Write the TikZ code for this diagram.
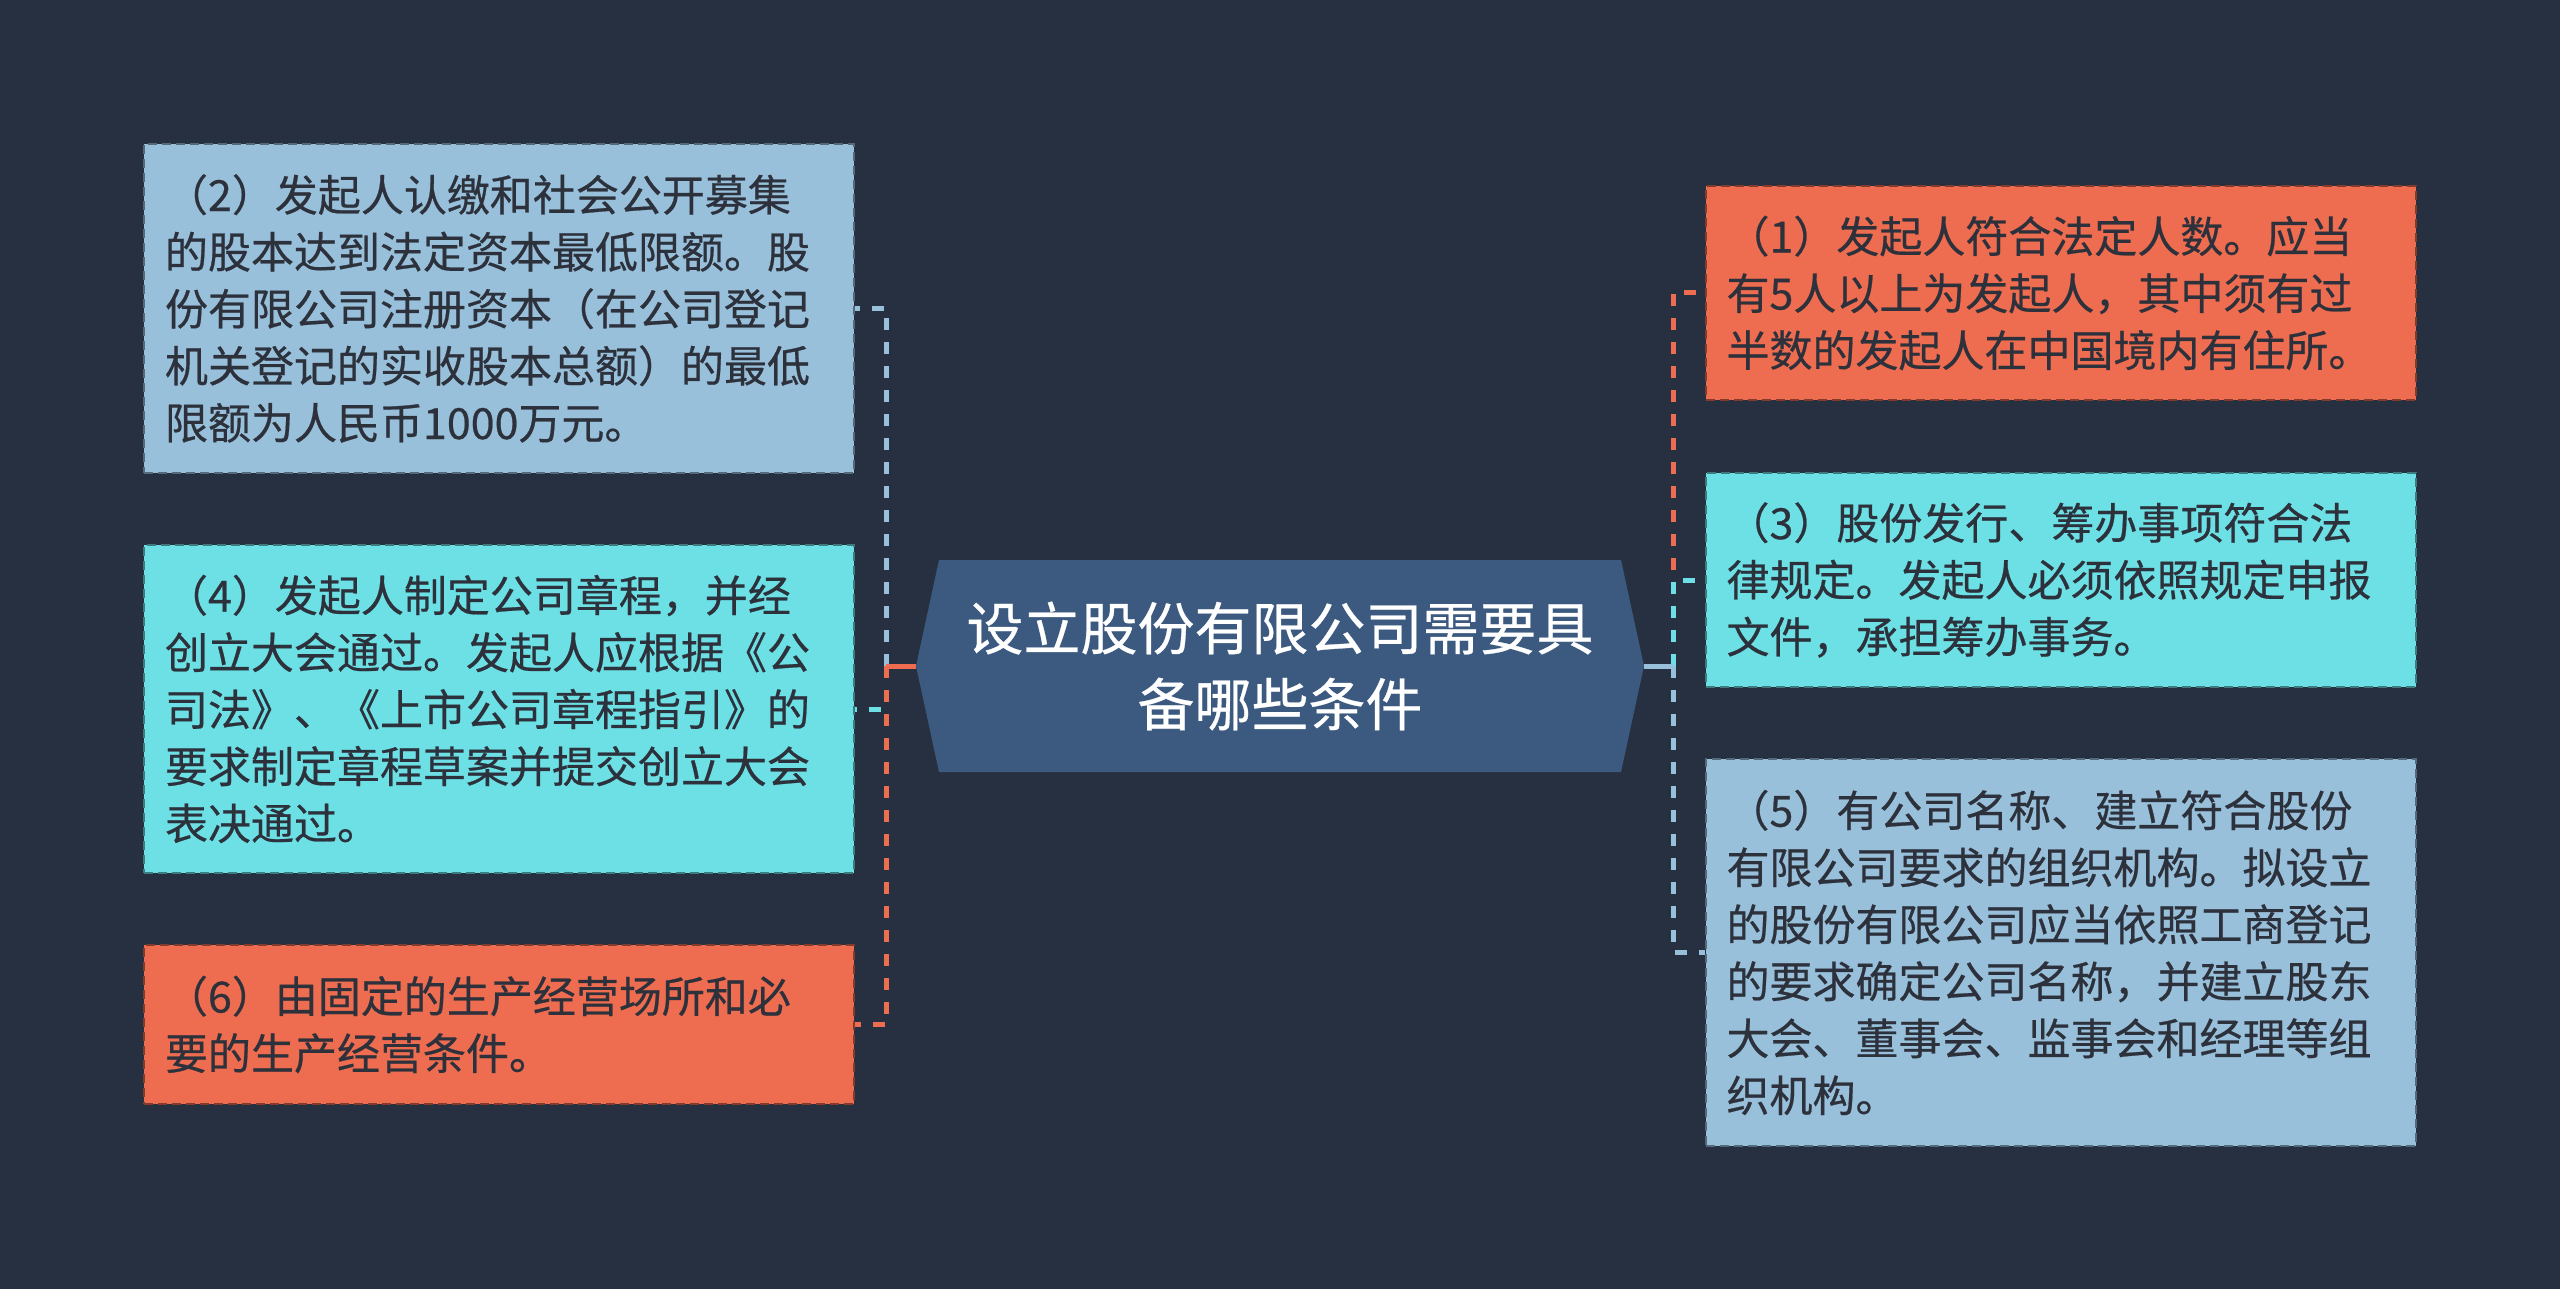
\documentclass[tikz,border=0pt]{standalone}
\usepackage{fontspec}
\setmainfont[FakeBold=0.5]{Noto Sans CJK SC}
\definecolor{bgc}{HTML}{273040}
\definecolor{lblue}{HTML}{99C0DA}
\definecolor{cyanb}{HTML}{6DE0E5}
\definecolor{orng}{HTML}{EE6C4F}
\definecolor{cfill}{HTML}{3C5A7F}
\definecolor{txt}{HTML}{2C313C}
\tikzset{
  box/.style={rectangle, minimum width=710pt, text width=668pt, inner xsep=21pt, inner ysep=0pt,
    align=left, text=txt, font=\fontsize{43}{57}\selectfont,
    line width=2pt, dash pattern=on 9pt off 5pt},
  bl/.style={box, fill=lblue, draw=lblue!55!black},
  bc/.style={box, fill=cyanb, draw=cyanb!55!black},
  bo/.style={box, fill=orng, draw=orng!55!black},
  cnode/.style={minimum width=728pt, minimum height=212pt, inner sep=0pt, align=center,
    text=white, font=\fontsize{57}{76}\selectfont},
  conn/.style={line width=5pt, dash pattern=on 12pt off 12pt},
  stub/.style={line width=5pt},
}
\begin{document}
\begin{tikzpicture}[x=1pt,y=-1pt]
\useasboundingbox (0,0) rectangle (2560,1289);
\fill[bgc] (0,0) rectangle (2560,1289);
% central hexagon
\fill[cfill] (916,666) -- (939,560) -- (1621,560) -- (1644,666) -- (1621,772) -- (939,772) -- cycle;
\node[cnode] (cn) at (1280,666) {设立股份有限公司需要具\\备哪些条件};
% left boxes
\node[bl, minimum height=329pt] (b2) at (499,308.5) {（2）发起人认缴和社会公开募集\\的股本达到法定资本最低限额。股\\份有限公司注册资本（在公司登记\\机关登记的实收股本总额）的最低\\限额为人民币1000万元。};
\node[bc, minimum height=328pt] (b4) at (499,709) {（4）发起人制定公司章程，并经\\创立大会通过。发起人应根据《公\\司法》、《上市公司章程指引》的\\要求制定章程草案并提交创立大会\\表决通过。};
\node[bo, minimum height=159pt] (b6) at (499,1024.5) {（6）由固定的生产经营场所和必\\要的生产经营条件。};
% right boxes
\node[bo, minimum height=214pt] (b1) at (2060.5,293) {（1）发起人符合法定人数。应当\\有5人以上为发起人，其中须有过\\半数的发起人在中国境内有住所。};
\node[bc, minimum height=214pt] (b3) at (2060.5,580) {（3）股份发行、筹办事项符合法\\律规定。发起人必须依照规定申报\\文件，承担筹办事务。};
\node[bl, minimum height=387pt] (b5) at (2060.5,952.5) {（5）有公司名称、建立符合股份\\有限公司要求的组织机构。拟设立\\的股份有限公司应当依照工商登记\\的要求确定公司名称，并建立股东\\大会、董事会、监事会和经理等组\\织机构。};
% junctions
\coordinate (jl) at (886,666);
\coordinate (jr) at (1673,666);
% connectors
\draw[conn, lblue] (jl) |- (b2.east);
\draw[conn, cyanb] (jl) |- (b4.east);
\draw[conn, orng] (jl) |- (b6.east);
\draw[stub, orng] (cn.west) -- (jl);
\draw[conn, orng] (jr) |- (b1.west);
\draw[conn, cyanb] (jr) |- (b3.west);
\draw[conn, lblue] (jr) |- (b5.west);
\draw[stub, lblue] (cn.east) -- (jr);
\end{tikzpicture}
\end{document}
